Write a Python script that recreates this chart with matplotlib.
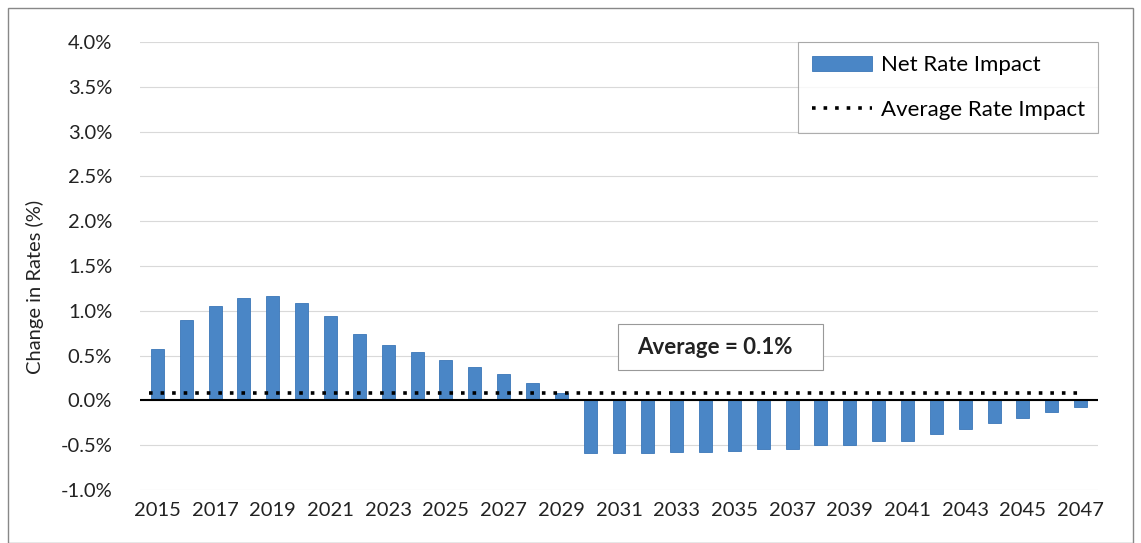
import matplotlib
matplotlib.use("Agg")
import matplotlib.pyplot as plt
from matplotlib.patches import Rectangle

years = list(range(2015, 2048))
net_rate_impact = [0.57, 0.90, 1.05, 1.14, 1.16, 1.09, 0.94, 0.745, 0.62, 0.54, 0.45, 0.37, 0.29, 0.19, 0.08,
                   -0.59, -0.59, -0.59, -0.58, -0.58, -0.56, -0.54, -0.54, -0.50, -0.50, -0.45, -0.45,
                   -0.38, -0.32, -0.25, -0.20, -0.13, -0.07]
average_rate = 0.08
yticks = [-1.0, -0.5, 0.0, 0.5, 1.0, 1.5, 2.0, 2.5, 3.0, 3.5, 4.0]
xtick_years = years[::2]

plt.rcParams['font.family'] = ['Lato', 'DejaVu Sans']

fig = plt.figure(figsize=(11.41, 5.43), dpi=100)
ax = fig.add_axes([140/1141, 1 - 490/543, (1098-140)/1141, (490-42)/543])

bar_color = '#4a86c6'
bars = ax.bar(years, net_rate_impact, width=0.45, color=bar_color, edgecolor='#3a76b8', linewidth=0.6,
              label='Net Rate Impact', zorder=3)
ax.axhline(0, color='black', linewidth=1.5, zorder=4)
avg_line, = ax.plot([years[0] - 0.3, years[-1]], [average_rate, average_rate], linestyle=(0, (1, 2.2)),
                    color='black', linewidth=2.6, label='Average Rate Impact', zorder=5)

ax.set_xlim(years[0] - 0.6, years[-1] + 0.6)
ax.set_ylim(-1.0, 4.0)
ax.set_yticks(yticks)
ax.set_yticklabels([f"{v:.1f}%" for v in yticks])
ax.set_xticks(xtick_years)
ax.set_xticklabels([str(y) for y in xtick_years])
ax.tick_params(axis='both', length=0, labelsize=14.5, colors='#222222')
ax.tick_params(axis='x', pad=9)
ax.tick_params(axis='y', pad=20)
ax.grid(axis='y', color='#d9d9d9', linewidth=0.8, zorder=0)
for s in ax.spines.values():
    s.set_visible(False)
ax.set_ylabel('Change in Rates (%)', fontsize=14.5, color='#222222')
ax.yaxis.set_label_coords(-0.100, 0.453)

leg = ax.legend([bars, avg_line], ['Net Rate Impact', 'Average Rate Impact'],
                loc='upper right', bbox_to_anchor=(1.0, 1.0), fontsize=16, frameon=True,
                fancybox=False, edgecolor='#999999', handlelength=2.7, handleheight=0.6,
                borderpad=0.6, labelspacing=1.1, handletextpad=0.4, borderaxespad=0.0)
leg.get_frame().set_linewidth(0.8)

ax.add_patch(Rectangle((0.499, 0.268), 0.214, 0.103, transform=ax.transAxes, facecolor='white',
                       edgecolor='#999999', linewidth=0.8, zorder=6))
ax.text(0.5997, 0.319, 'Average = 0.1%', transform=ax.transAxes, fontsize=16, fontweight='bold',
        ha='center', va='center', color='#222222', zorder=7)

fig.patches.append(Rectangle((8/1141, 0.0), 1 - 16/1141, 1 - 8/543, transform=fig.transFigure,
                             fill=False, edgecolor='#888888', linewidth=1.0))

fig.savefig('out.png', dpi=100)
